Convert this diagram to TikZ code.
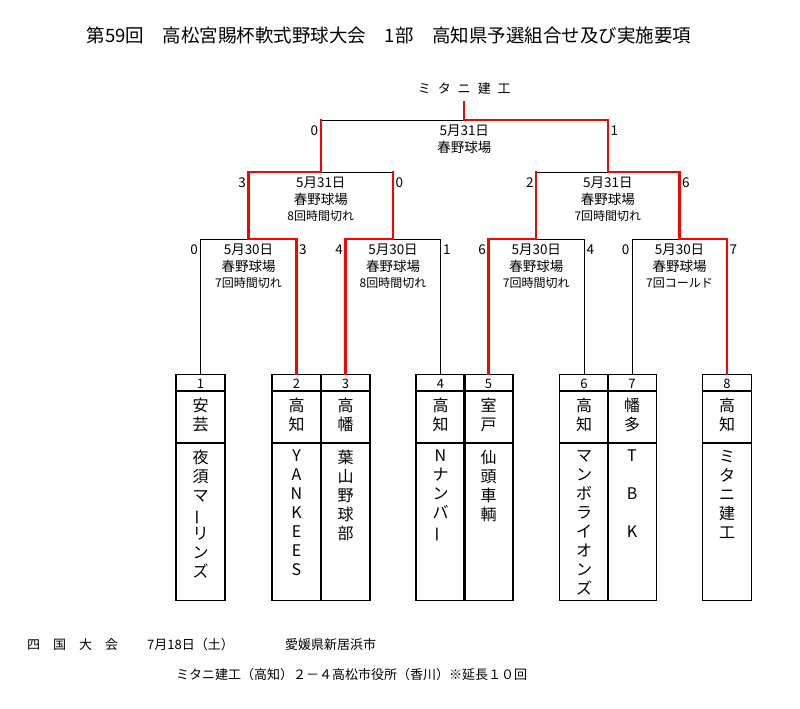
\documentclass[tikz,border=0pt]{standalone}
\usepackage{fontspec}
\setmainfont{Noto Sans CJK JP}
\usepackage{graphicx}
\usetikzlibrary{positioning}
\newcommand{\vbar}{\rotatebox[origin=c]{90}{ー}}

\begin{document}
\begin{tikzpicture}[x=1pt,y=-1pt]
    \tikzstyle{win}=[draw=red,line width=2.4pt,line cap=rect]
    \tikzstyle{lose}=[draw=black,line width=0.9pt]
    \tikzstyle{team}=[draw,line width=1.3pt,minimum width=49pt,minimum height=226pt,anchor=north,inner sep=0pt]
    \tikzstyle{rowline}=[line width=1.3pt]
    \tikzstyle{num}=[font=\fontsize{13}{15}\selectfont,inner sep=0pt]
    \tikzstyle{vname}=[font=\fontsize{16}{19}\selectfont,align=center,anchor=north,inner sep=0pt]
    \tikzstyle{info}=[font=\fontsize{13.5}{16.5}\selectfont,align=center,anchor=north,inner sep=0pt,yshift=-5pt]
    \tikzstyle{lscore}=[font=\fontsize{13.5}{15}\selectfont,inner sep=0pt,anchor=east,xshift=-2.5pt,yshift=-11pt]
    \tikzstyle{rscore}=[font=\fontsize{13.5}{15}\selectfont,inner sep=0pt,anchor=west,xshift=2.5pt,yshift=-11pt]
    \tikzstyle{note}=[font=\fontsize{13}{15}\selectfont,inner sep=0pt,anchor=west]
    \useasboundingbox (0,0) rectangle (800,709);

    \node[font=\fontsize{18.5}{20}\selectfont] (title) at (389,35)
      {第59回\quad 高松宮賜杯軟式野球大会\quad 1部\quad 高知県予選組合せ及び実施要項};
    \node[font=\fontsize{13}{15}\selectfont] (champ) at (464.25,89)
      {ミ\hspace{7pt}タ\hspace{7pt}ニ\hspace{7pt}建\hspace{7pt}工};

    % teams
    \node[team] (t1) at (200.5,374) {};
    \node[team] (t2) at (296.5,374) {};
    \node[team] (t3) at (345.5,374) {};
    \node[team] (t4) at (440.5,374) {};
    \node[team] (t5) at (488.5,374) {};
    \node[team] (t6) at (584,374) {};
    \node[team] (t7) at (632,374) {};
    \node[team] (t8) at (727,374) {};
    \draw[rowline] ([yshift=-17pt]t1.north west) -- ([yshift=-17pt]t1.north east);
    \draw[rowline] ([yshift=-69pt]t1.north west) -- ([yshift=-69pt]t1.north east);
    \draw[rowline] ([yshift=-17pt]t2.north west) -- ([yshift=-17pt]t3.north east);
    \draw[rowline] ([yshift=-69pt]t2.north west) -- ([yshift=-69pt]t3.north east);
    \draw[rowline] ([yshift=-17pt]t4.north west) -- ([yshift=-17pt]t5.north east);
    \draw[rowline] ([yshift=-69pt]t4.north west) -- ([yshift=-69pt]t5.north east);
    \draw[rowline] ([yshift=-17pt]t6.north west) -- ([yshift=-17pt]t7.north east);
    \draw[rowline] ([yshift=-69pt]t6.north west) -- ([yshift=-69pt]t7.north east);
    \draw[rowline] ([yshift=-17pt]t8.north west) -- ([yshift=-17pt]t8.north east);
    \draw[rowline] ([yshift=-69pt]t8.north west) -- ([yshift=-69pt]t8.north east);

    \node[num] (n1) at ([yshift=-10pt]t1.north) {1};
    \node[num] (n2) at ([yshift=-10pt]t2.north) {2};
    \node[num] (n3) at ([yshift=-10pt]t3.north) {3};
    \node[num] (n4) at ([yshift=-10pt]t4.north) {4};
    \node[num] (n5) at ([yshift=-10pt]t5.north) {5};
    \node[num] (n6) at ([yshift=-10pt]t6.north) {6};
    \node[num] (n7) at ([yshift=-10pt]t7.north) {7};
    \node[num] (n8) at ([yshift=-10pt]t8.north) {8};

    \node[vname] (r1) at ([yshift=-24pt]t1.north) {安\\芸};
    \node[vname] (r2) at ([yshift=-24pt]t2.north) {高\\知};
    \node[vname] (r3) at ([yshift=-24pt]t3.north) {高\\幡};
    \node[vname] (r4) at ([yshift=-24pt]t4.north) {高\\知};
    \node[vname] (r5) at ([yshift=-24pt]t5.north) {室\\戸};
    \node[vname] (r6) at ([yshift=-24pt]t6.north) {高\\知};
    \node[vname] (r7) at ([yshift=-24pt]t7.north) {幡\\多};
    \node[vname] (r8) at ([yshift=-24pt]t8.north) {高\\知};

    \node[vname] (m1) at ([yshift=-76pt]t1.north) {夜\\須\\マ\\\vbar\\リ\\ン\\ズ};
    \node[vname] (m2) at ([yshift=-76pt]t2.north) {Y\\A\\N\\K\\E\\E\\S};
    \node[vname] (m3) at ([yshift=-76pt]t3.north) {葉\\山\\野\\球\\部};
    \node[vname] (m4) at ([yshift=-76pt]t4.north) {N\\ナ\\ン\\バ\\\vbar};
    \node[vname] (m5) at ([yshift=-76pt]t5.north) {仙\\頭\\車\\輌};
    \node[vname] (m6) at ([yshift=-76pt]t6.north) {マ\\ン\\ボ\\ラ\\イ\\オ\\ン\\ズ};
    \node[vname] (m7) at ([yshift=-76pt]t7.north) {T\\[19pt]B\\[19pt]K};
    \node[vname] (m8) at ([yshift=-76pt]t8.north) {ミ\\タ\\ニ\\建\\工};

    % bracket
    \coordinate (qf1) at (248.5,239);
    \coordinate (qf2) at (393,239);
    \coordinate (qf3) at (536.25,239);
    \coordinate (qf4) at (679.5,239);
    \coordinate (sf1) at (320.75,172);
    \coordinate (sf2) at (607.9,172);
    \coordinate (fin) at (464.25,120);
    \coordinate (top) at (464.25,102);

    \draw[lose] (t1.north) |- (qf1);
    \draw[lose] (t4.north) |- (qf2);
    \draw[lose] (t6.north) |- (qf3);
    \draw[lose] (t7.north) |- (qf4);
    \draw[lose] (qf2 |- sf1) -- (sf1);
    \draw[lose] (qf3 |- sf2) -- (sf2);
    \draw[lose] (sf1 |- fin) -- (fin);

    \draw[win] (t2.north) |- (qf1);
    \draw[win] (t3.north) |- (qf2);
    \draw[win] (t5.north) |- (qf3);
    \draw[win] (t8.north) |- (qf4);
    \draw[win] (qf1) |- (sf1);
    \draw[win] (qf2) -- (qf2 |- sf1);
    \draw[win] (qf3) -- (qf3 |- sf2);
    \draw[win] (qf4) |- (sf2);
    \draw[win] (sf1) -- (sf1 |- fin);
    \draw[win] (sf2) |- (fin);
    \draw[win] (fin) -- (top);

    % scores
    \node[lscore] (s1) at (t1 |- qf1) {0};
    \node[rscore] (s2) at (t2 |- qf1) {3};
    \node[lscore] (s3) at (t3 |- qf2) {4};
    \node[rscore] (s4) at (t4 |- qf2) {1};
    \node[lscore] (s5) at (t5 |- qf3) {6};
    \node[rscore] (s6) at (t6 |- qf3) {4};
    \node[lscore] (s7) at (t7 |- qf4) {0};
    \node[rscore] (s8) at (t8 |- qf4) {7};
    \node[lscore] (s9) at (qf1 |- sf1) {3};
    \node[rscore] (s10) at (qf2 |- sf1) {0};
    \node[lscore] (s11) at (qf3 |- sf2) {2};
    \node[rscore] (s12) at (qf4 |- sf2) {6};
    \node[lscore] (s13) at (sf1 |- fin) {0};
    \node[rscore] (s14) at (sf2 |- fin) {1};

    % match notes
    \node[info] (i1) at (qf1) {5月30日\\春野球場\\{\fontsize{12}{15}\selectfont 7回時間切れ}};
    \node[info] (i2) at (qf2) {5月30日\\春野球場\\{\fontsize{12}{15}\selectfont 8回時間切れ}};
    \node[info] (i3) at (qf3) {5月30日\\春野球場\\{\fontsize{12}{15}\selectfont 7回時間切れ}};
    \node[info] (i4) at (qf4) {5月30日\\春野球場\\{\fontsize{12}{15}\selectfont 7回コールド}};
    \node[info] (i5) at (sf1) {5月31日\\春野球場\\{\fontsize{12}{15}\selectfont 8回時間切れ}};
    \node[info] (i6) at (sf2) {5月31日\\春野球場\\{\fontsize{12}{15}\selectfont 7回時間切れ}};
    \node[info] (i7) at (fin) {5月31日\\春野球場};

    % shikoku
    \node[note] (b1) at (27,645) {四　国　大　会};
    \node[note] (b2) at (147,645) {7月18日（土）};
    \node[note] (b3) at (285,645) {愛媛県新居浜市};
    \node[note] (b4) at (176,675) {ミタニ建工（高知）２－４高松市役所（香川）※延長１０回};
\end{tikzpicture}
\end{document}
